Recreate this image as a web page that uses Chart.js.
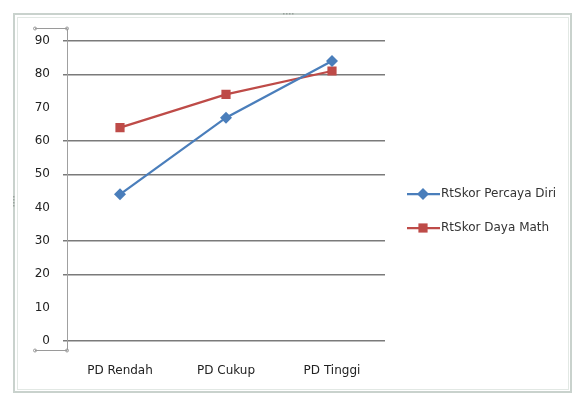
<!DOCTYPE html>
<html>
<head>
<meta charset="utf-8">
<script src="https://cdn.jsdelivr.net/npm/chart.js@4.4.1/dist/chart.umd.min.js"></script>
<style>
  html, body { margin: 0; padding: 0; background: #fff; }
  #wrap { width: 577px; height: 400px; position: relative; }
</style>
</head>
<body>
<div id="wrap"><canvas id="myChart" width="577" height="400"></canvas></div>
<script>
const categories = ['PD Rendah', 'PD Cukup', 'PD Tinggi'];
const seriesNames = ['RtSkor Percaya Diri', 'RtSkor Daya Math'];
const percayaDiri = [44, 67, 84];
const dayaMath = [64, 74, 81];
const hiddenGrid = [70, 40, 10]; // these lines are lost in the picture

const blue = '#4a7ebb';
const red = '#be4b48';
const ctx = document.getElementById('myChart');

// frame, axis handles and legend drawn by hand
const decor = {
    id: 'decor',
    beforeDraw(chart) {
        const c = chart.ctx;
        c.save();
        c.fillStyle = '#fff';
        c.fillRect(0, 0, chart.width, chart.height);
        c.strokeStyle = '#c9d2cd';
        c.lineWidth = 2;
        c.strokeRect(14, 14, 557, 378);
        c.strokeStyle = '#e2e8e4';
        c.lineWidth = 1;
        c.strokeRect(17.5, 17.5, 551, 372);
        // little grips on the frame
        c.fillStyle = '#9aa39e';
        for (let i = 0; i < 4; i++) {
            c.fillRect(283 + i * 3, 13, 1.5, 1.5);
            c.fillRect(13, 196 + i * 3, 1.5, 1.5);
        }
        c.restore();
    },
    afterDraw(chart) {
        const c = chart.ctx;
        const area = chart.chartArea;
        c.save();
        // selection handles of the vertical axis
        const yTop = area.top - 12.5, yBot = area.bottom + 9.5;
        c.strokeStyle = '#9a9a9a';
        c.lineWidth = 1;
        c.beginPath();
        c.moveTo(area.left + 0.5, yTop);
        c.lineTo(area.left + 0.5, area.top);
        c.moveTo(area.left + 0.5, area.bottom);
        c.lineTo(area.left + 0.5, yBot);
        c.stroke();
        [yTop, yBot].forEach(function(y) {
            c.beginPath();
            c.moveTo(35, y);
            c.lineTo(area.left, y);
            c.stroke();
            c.beginPath();
            c.arc(35, y, 1.5, 0, Math.PI * 2);
            c.stroke();
            c.beginPath();
            c.arc(area.left, y, 1.5, 0, Math.PI * 2);
            c.stroke();
        });
        // legend
        const items = [[blue, 'rectRot', 6], [red, 'rect', 6.5]];
        c.font = '12px "DejaVu Sans"';
        c.textBaseline = 'middle';
        chart.data.datasets.forEach(function(ds, i) {
            const y = 194 + i * 34;
            c.strokeStyle = items[i][0];
            c.lineWidth = 2.25;
            c.beginPath();
            c.moveTo(407, y);
            c.lineTo(440, y);
            c.stroke();
            c.fillStyle = items[i][0];
            Chart.helpers.drawPoint(c, {pointStyle: items[i][1], radius: items[i][2], borderWidth: 0}, 423, y);
            c.fillStyle = '#333';
            c.fillText(ds.label, 441, y);
        });
        c.restore();
    }
};

const myChart = new Chart(ctx, {
    type: 'line',
    data: {
        labels: categories,
        datasets: [{
            label: seriesNames[0],
            data: percayaDiri,
            borderColor: blue,
            backgroundColor: blue,
            borderWidth: 2.25,
            pointStyle: 'rectRot',
            pointRadius: 6,
            pointBorderWidth: 0
        }, {
            label: seriesNames[1],
            data: dayaMath,
            borderColor: red,
            backgroundColor: red,
            borderWidth: 2.25,
            pointStyle: 'rect',
            pointRadius: 6.5,
            pointBorderWidth: 0
        }]
    },
    options: {
        responsive: false,
        animation: false,
        layout: { padding: { top: 41, right: 192, left: 0, bottom: 0 } },
        plugins: {
            legend: { display: false },
            tooltip: { enabled: false }
        },
        scales: {
            x: {
                offset: true,
                grid: { display: false, drawTicks: false },
                border: { display: false },
                ticks: { color: '#222', font: { family: 'DejaVu Sans', size: 12 }, padding: 23 },
                afterFit: function(scale) { scale.height = 59; }
            },
            y: {
                min: 0,
                max: 90,
                ticks: { stepSize: 10, color: '#222', font: { family: 'DejaVu Sans', size: 12 }, padding: 13 },
                grid: {
                    tickLength: 4,
                    lineWidth: 1.5,
                    color: function(c) {
                        return hiddenGrid.includes(c.tick.value) ? 'rgba(0,0,0,0)' : '#7a7a7a';
                    }
                },
                border: { display: true, color: '#a0a0a0', width: 1 },
                afterFit: function(scale) { scale.width = 67; }
            }
        }
    },
    plugins: [decor]
});
</script>
</body>
</html>
